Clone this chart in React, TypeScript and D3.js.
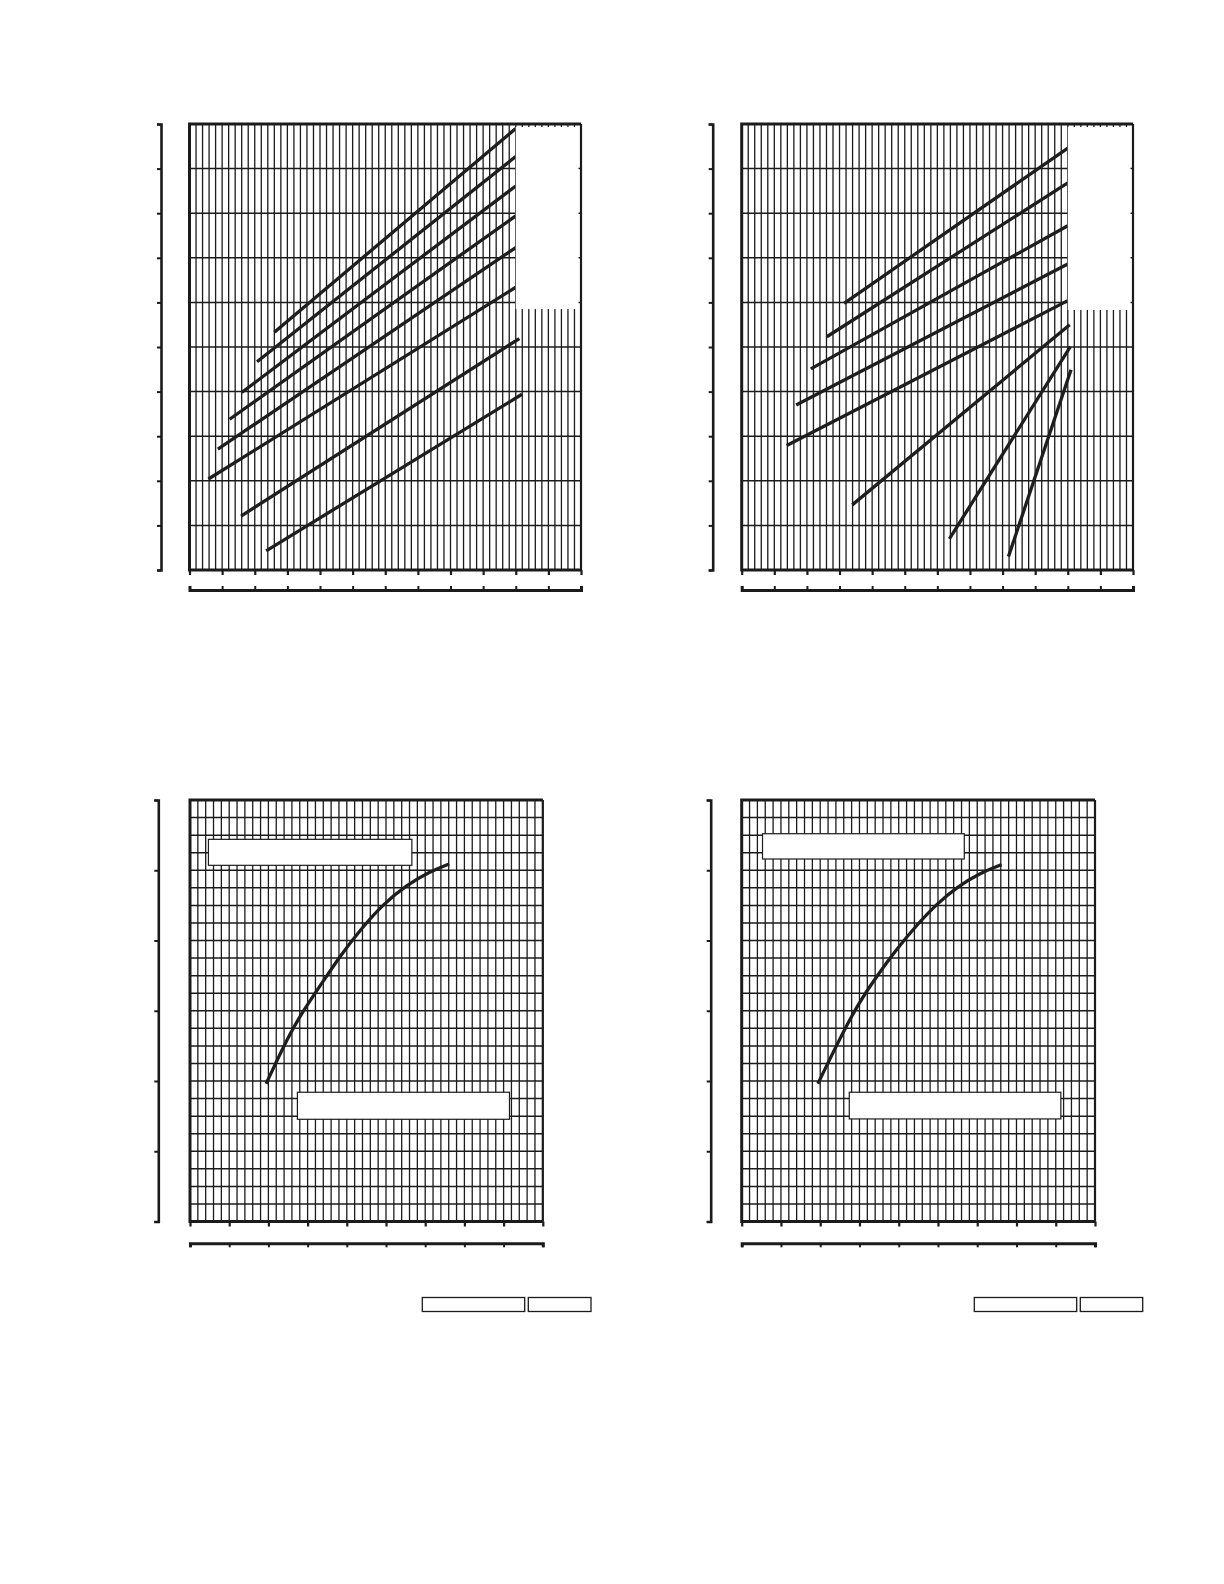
import React, { useRef, useEffect } from 'react';
import * as d3 from 'd3';

// --- chart values (no labels are printed on the sheet) ---
const topXMajor = [0, 1, 2, 3, 4, 5, 6, 7, 8, 9, 10, 11, 12];
const topYMajor = [0, 1, 2, 3, 4, 5, 6, 7, 8, 9, 10];
const bottomXMajor = [0, 1, 2, 3, 4, 5, 6, 7, 8, 9];
const bottomYMajor = [0, 1, 2, 3, 4, 5, 6];

// upper left: eight straight lines [x, y] start -> end
const upperLeftLines: [number, number][][] = [
  [[2.60, 5.33], [10.0, 9.90]],
  [[2.07, 4.67], [10.0, 9.27]],
  [[1.60, 3.98], [10.0, 8.61]],
  [[1.23, 3.38], [10.0, 7.94]],
  [[0.87, 2.71], [10.0, 7.23]],
  [[0.58, 2.04], [10.0, 6.34]],
  [[1.58, 1.21], [10.11, 5.19]],
  [[2.35, 0.43], [10.19, 3.94]],
];

// upper right
const upperRightLines: [number, number][][] = [
  [[3.14, 5.98], [10.0, 9.46]],
  [[2.61, 5.23], [10.0, 8.68]],
  [[2.12, 4.51], [10.0, 7.72]],
  [[1.67, 3.70], [10.0, 6.86]],
  [[1.38, 2.79], [10.0, 6.04]],
  [[3.39, 1.46], [10.06, 5.50]],
  [[6.37, 0.70], [10.08, 5.01]],
  [[8.18, 0.30], [10.10, 4.49]],
];

// lower charts: one rising curve each
const lowerLeftCurve: [number, number][] = [
  [1.94, 1.96], [2.53, 2.66], [2.89, 3.00], [3.36, 3.39], [3.83, 3.78],
  [4.34, 4.15], [4.93, 4.52], [5.53, 4.79], [6.12, 4.98], [6.61, 5.09],
];
const lowerRightCurve: [number, number][] = [
  [1.94, 1.96], [2.84, 3.00], [3.44, 3.49], [3.95, 3.88], [4.46, 4.22],
  [4.97, 4.52], [5.48, 4.76], [6.07, 4.96], [6.62, 5.08],
];

const INK = '#1b1b1b';

interface PanelCfg {
  left: number; right: number; top: number; bottom: number;
  axisX: number; axis2Y: number; axis2Up: boolean;
  xMajor: number[]; yMajor: number[];
  xMinorStep: number; yMinorStep: number;
  lines: [number, number][][];
  curved: boolean;
  blank?: { x0: number; y0: number };           // white patch in upper right corner
  notes?: { x0: number; x1: number; y0: number; y1: number }[]; // framed empty boxes
}

const drawPanel = (svg: d3.Selection<SVGSVGElement, unknown, null, undefined>, c: PanelCfg) => {
  const xMax = c.xMajor[c.xMajor.length - 1];
  const yMax = c.yMajor[c.yMajor.length - 1];
  const x = d3.scaleLinear().domain([0, xMax]).range([c.left, c.right]);
  const y = d3.scaleLinear().domain([0, yMax]).range([c.bottom, c.top]);
  const g = svg.append('g');

  const xMinor = d3.range(0, xMax + 1e-6, c.xMinorStep);
  const yMinor = d3.range(0, yMax + 1e-6, c.yMinorStep);

  // grid
  g.append('g').selectAll('line').data(xMinor).join('line')
    .attr('x1', d => x(d)).attr('x2', d => x(d))
    .attr('y1', c.top).attr('y2', c.bottom)
    .attr('stroke', INK).attr('stroke-width', 1.3);
  g.append('g').selectAll('line').data(yMinor).join('line')
    .attr('x1', c.left).attr('x2', c.right)
    .attr('y1', d => y(d)).attr('y2', d => y(d))
    .attr('stroke', INK).attr('stroke-width', 1.5);

  // series
  const line = d3.line<[number, number]>()
    .x(d => x(d[0])).y(d => y(d[1]))
    .curve(c.curved ? d3.curveBasis : d3.curveLinear);
  g.append('g').selectAll('path').data(c.lines).join('path')
    .attr('d', d => line(d))
    .attr('fill', 'none').attr('stroke', '#1e1e1e').attr('stroke-width', 3.3);

  // blank corner patch
  if (c.blank) {
    g.append('rect')
      .attr('x', x(c.blank.x0)).attr('y', c.top + 3)
      .attr('width', c.right - 2.5 - x(c.blank.x0))
      .attr('height', y(c.blank.y0) - c.top - 3)
      .attr('fill', '#fff');
  }

  // framed empty boxes
  (c.notes || []).forEach(n => {
    g.append('rect')
      .attr('x', x(n.x0)).attr('y', y(n.y1))
      .attr('width', x(n.x1) - x(n.x0)).attr('height', y(n.y0) - y(n.y1))
      .attr('fill', '#fff').attr('stroke', INK).attr('stroke-width', 1.2);
  });

  // frame
  g.append('path')
    .attr('d', `M${c.right},${c.top}L${c.left},${c.top}L${c.left},${c.bottom}L${c.right},${c.bottom}`)
    .attr('fill', 'none').attr('stroke', INK).attr('stroke-width', 3);
  g.append('line')
    .attr('x1', c.right).attr('x2', c.right).attr('y1', c.top).attr('y2', c.bottom)
    .attr('stroke', INK).attr('stroke-width', 2.2);

  // ticks under the frame
  const under = g.append('g').attr('transform', `translate(0,${c.bottom})`)
    .call(d3.axisBottom(x).tickValues(c.xMajor).tickSize(5).tickFormat(() => ''));
  under.select('.domain').remove();
  under.selectAll('line').attr('stroke', INK).attr('stroke-width', 2.2);

  // detached value axis on the left
  const ya = g.append('g').attr('transform', `translate(${c.axisX},0)`)
    .call(d3.axisLeft(y).tickValues(c.yMajor).tickSize(4).tickFormat(() => ''));
  ya.select('.domain').attr('stroke', INK).attr('stroke-width', 2.6);
  ya.selectAll('line').attr('stroke', INK).attr('stroke-width', 2);

  // second scale under the chart
  const ax2 = c.axis2Up ? d3.axisTop(x) : d3.axisBottom(x);
  const xa = g.append('g').attr('transform', `translate(0,${c.axis2Y})`)
    .call(ax2.tickValues(c.xMajor).tickSize(4).tickFormat(() => ''));
  xa.select('.domain').attr('stroke', INK).attr('stroke-width', 3);
  xa.selectAll('line').attr('stroke', INK).attr('stroke-width', 2);
};

const panels: PanelCfg[] = [
  {
    left: 189.5, right: 581, top: 124, bottom: 570, axisX: 161, axis2Y: 590, axis2Up: true,
    xMajor: topXMajor, yMajor: topYMajor, xMinorStep: 0.2, yMinorStep: 1,
    lines: upperLeftLines, curved: false, blank: { x0: 10.0, y0: 5.85 },
  },
  {
    left: 741.7, right: 1133, top: 124, bottom: 570, axisX: 712.7, axis2Y: 590, axis2Up: true,
    xMajor: topXMajor, yMajor: topYMajor, xMinorStep: 0.2, yMinorStep: 1,
    lines: upperRightLines, curved: false, blank: { x0: 10.0, y0: 5.83 },
  },
  {
    left: 190, right: 542.8, top: 800, bottom: 1221.5, axisX: 158.3, axis2Y: 1243.3, axis2Up: false,
    xMajor: bottomXMajor, yMajor: bottomYMajor, xMinorStep: 0.2, yMinorStep: 0.25,
    lines: [lowerLeftCurve], curved: true,
    notes: [
      { x0: 0.47, x1: 5.66, y0: 5.07, y1: 5.44 },
      { x0: 2.74, x1: 8.15, y0: 1.455, y1: 1.84 },
    ],
  },
  {
    left: 741.7, right: 1095, top: 800, bottom: 1221.5, axisX: 710.7, axis2Y: 1243.3, axis2Up: false,
    xMajor: bottomXMajor, yMajor: bottomYMajor, xMinorStep: 0.2, yMinorStep: 0.25,
    lines: [lowerRightCurve], curved: true,
    notes: [
      { x0: 0.53, x1: 5.67, y0: 5.16, y1: 5.52 },
      { x0: 2.74, x1: 8.13, y0: 1.46, y1: 1.84 },
    ],
  },
];

// small empty label boxes under the lower charts [x, width]
const footerBoxes = [
  [422.3, 102.4], [528.3, 62.7],
  [974.3, 102.4], [1080.3, 62.4],
];

const App: React.FC = () => {
  const svgRef = useRef<SVGSVGElement>(null);

  useEffect(() => {
    if (!svgRef.current) return;
    const svg = d3.select(svgRef.current);
    svg.selectAll('*').remove();

    panels.forEach(p => drawPanel(svg, p));

    svg.append('g').selectAll('rect').data(footerBoxes).join('rect')
      .attr('x', d => d[0]).attr('y', 1297.5)
      .attr('width', d => d[1]).attr('height', 14)
      .attr('fill', '#fff').attr('stroke', INK).attr('stroke-width', 1.3);
  }, []);

  return (
    <svg
      ref={svgRef}
      width={1224}
      height={1584}
      style={{ position: 'absolute', left: 0, top: 0, background: '#fff' }}
    />
  );
};

export default App;
